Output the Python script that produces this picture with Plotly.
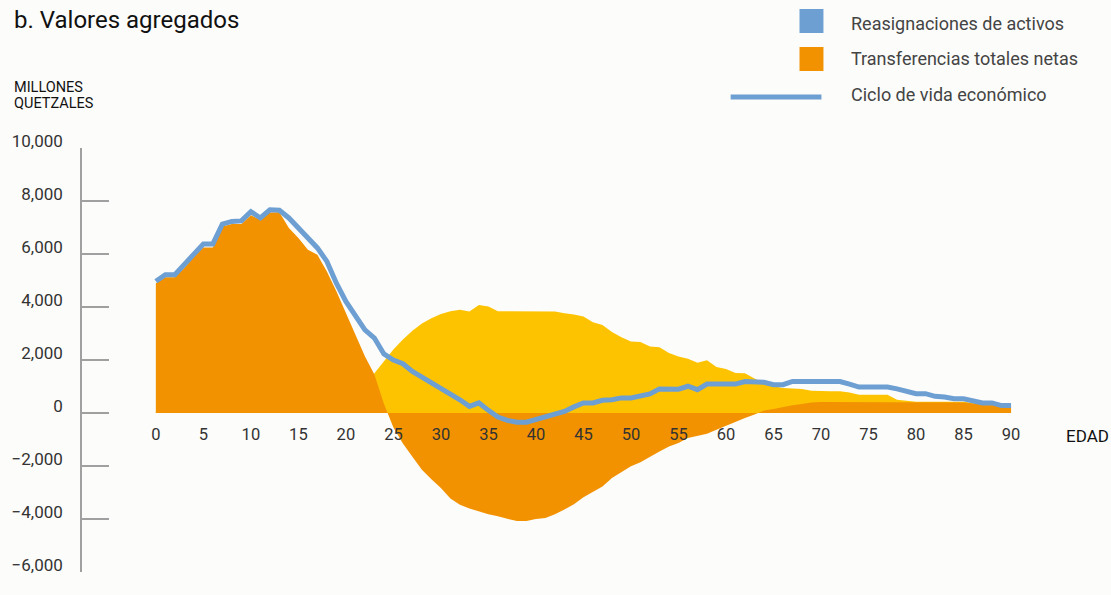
import plotly.graph_objects as go

# ---- data (millones de quetzales) ----
edad = list(range(0, 91))

transferencias = [
    4900, 5120, 5120, 5470, 5910, 6250, 6250, 7040, 7130, 7130,
    7460, 7290, 7570, 7580, 6980, 6600, 6160, 5970, 5340, 4590,
    3770, 2950, 2140, 1450, 350, -550, -1150, -1650, -2140, -2500,
    -2830, -3230, -3460, -3600, -3710, -3820, -3900, -4000, -4080, -4080,
    -4000, -3960, -3820, -3640, -3440, -3180, -2980, -2770, -2450, -2240,
    -2010, -1860, -1640, -1450, -1260, -1130, -940, -860, -780, -630,
    -480, -320, -190, -60, 90, 150, 230, 290, 340, 400,
    415, 415, 415, 415, 415, 415, 415, 415, 415, 410,
    410, 410, 410, 410, 410, 400, 360, 320, 300, 280,
    270,
]

reasignaciones = [
    70, 100, 100, 130, 90, 130, 130, 90, 100, 120,
    140, 70, 100, 50, 380, 380, 500, 260, 380, 310,
    440, 760, 1000, 1500, 1960, 2400, 2770, 3100, 3380, 3580,
    3740, 3840, 3900, 3830, 4080, 4020, 3840, 3840, 3840, 3840,
    3840, 3840, 3830, 3760, 3720, 3640, 3420, 3320, 3060, 2860,
    2700, 2680, 2510, 2480, 2260, 2130, 2050, 1900, 1990, 1740,
    1660, 1510, 1500, 1300, 1130, 1010, 940, 920, 910, 840,
    820, 820, 820, 770, 690, 690, 690, 690, 500, 450,
    420, 420, 420, 420, 420, 420, 380, 330, 310, 290,
    280,
]

ciclo_vida = [
    4970, 5220, 5220, 5600, 6000, 6380, 6380, 7130, 7230, 7250,
    7600, 7360, 7670, 7650, 7360, 6980, 6660, 6230, 5720, 4900,
    4210, 3710, 3140, 2830, 2230, 2000, 1860, 1570, 1360, 1110,
    940, 690, 500, 250, 380, 100, -150, -280, -350, -350,
    -250, -130, -60, 60, 230, 380, 380, 480, 500, 570,
    570, 630, 720, 910, 910, 900, 1010, 880, 1090, 1090,
    1090, 1090, 1190, 1190, 1160, 1070, 1070, 1190, 1190, 1190,
    1190, 1190, 1190, 1090, 980, 980, 980, 980, 910, 820,
    730, 730, 630, 600, 540, 540, 440, 380, 380, 280,
    280,
]

x_ticks = list(range(0, 91, 5))
y_ticks = list(range(-6000, 10001, 2000))

series_names = ["Reasignaciones de activos", "Transferencias totales netas", "Ciclo de vida económico"]

# ---- styling ----
W, H = 1111, 595
L, R, T, B = 80, 1040, 148, 572
BG = "#fcfcfa"
ORANGE = "#f29200"
YELLOW = "#fdc300"
BLUE = "#6e9fd3"
GREY = "#a0a0a0"
FONT = "Roboto"

px_per_year = 9.522
x0_px = 154
xmin = -(x0_px - L) / px_per_year
xmax = (R - x0_px) / px_per_year


def px(x):
    return (x - L) / (R - L)


def py(y):
    return (B - y) / (B - T)


fig = go.Figure()
fig.add_trace(go.Scatter(x=edad, y=reasignaciones, mode="lines", fill="tozeroy",
                         line=dict(width=0, color=YELLOW), fillcolor=YELLOW,
                         name=series_names[0], showlegend=False, hoverinfo="skip"))
fig.add_trace(go.Scatter(x=edad, y=transferencias, mode="lines", fill="tozeroy",
                         line=dict(width=0, color=ORANGE), fillcolor=ORANGE,
                         name=series_names[1], showlegend=False, hoverinfo="skip"))
fig.add_trace(go.Scatter(x=edad, y=ciclo_vida, mode="lines",
                         line=dict(width=5, color=BLUE),
                         name=series_names[2], showlegend=False, hoverinfo="skip"))

shapes = [
    dict(type="rect", xref="paper", yref="paper", x0=px(799), x1=px(823), y0=py(33), y1=py(9),
         fillcolor=BLUE, line=dict(width=0)),
    dict(type="rect", xref="paper", yref="paper", x0=px(799), x1=px(823), y0=py(71), y1=py(47),
         fillcolor=ORANGE, line=dict(width=0)),
    dict(type="line", xref="paper", yref="paper", x0=px(730), x1=px(821), y0=py(97), y1=py(97),
         line=dict(width=5, color=BLUE)),
]

annotations = [
    dict(text="b. Valores agregados", x=px(10), y=py(20), xref="paper", yref="paper",
         xanchor="left", yanchor="middle", showarrow=False,
         font=dict(family=FONT, size=24, color="#111111")),
    dict(text="MILLONES", x=px(10), y=py(87), xref="paper", yref="paper",
         xanchor="left", yanchor="middle", showarrow=False,
         font=dict(family=FONT, size=14.5, color="#111111")),
    dict(text="QUETZALES", x=px(10), y=py(104), xref="paper", yref="paper",
         xanchor="left", yanchor="middle", showarrow=False,
         font=dict(family=FONT, size=14.5, color="#111111")),
    dict(text="EDAD", x=px(1064), y=py(436), xref="paper", yref="paper",
         xanchor="left", yanchor="middle", showarrow=False,
         font=dict(family=FONT, size=17, color="#111111")),
]
for name, yc in zip(series_names, [24, 59, 94]):
    annotations.append(dict(text=name, x=px(849), y=py(yc), xref="paper", yref="paper",
                            xanchor="left", yanchor="middle", showarrow=False,
                            font=dict(family=FONT, size=18, color="#444444")))

fig.update_layout(
    width=W, height=H,
    margin=dict(l=L, r=W - R, t=T, b=H - B, pad=0),
    paper_bgcolor=BG, plot_bgcolor=BG,
    showlegend=False,
    shapes=shapes,
    annotations=annotations,
    xaxis=dict(range=[xmin, xmax], tickvals=x_ticks, showgrid=False, zeroline=False,
               showline=False, ticks="", anchor="free", position=6000 / 16000,
               ticklabelstandoff=9,
               tickfont=dict(family=FONT, size=16.5, color="#333333")),
    yaxis=dict(range=[-6000, 10000], tickvals=y_ticks, tickformat=",d",
               showgrid=False, zeroline=False, showline=True, linecolor=GREY, linewidth=1.5,
               ticks="inside", ticklen=27, tickcolor=GREY, tickwidth=1.5,
               ticklabelstandoff=14, ticklabelshift=-7,
               tickfont=dict(family=FONT, size=17, color="#333333")),
)

fig.write_html(
    "out.html",
    config={"displayModeBar": False},
    post_script="document.body.style.margin='0';document.body.style.background='#fcfcfa';",
)
